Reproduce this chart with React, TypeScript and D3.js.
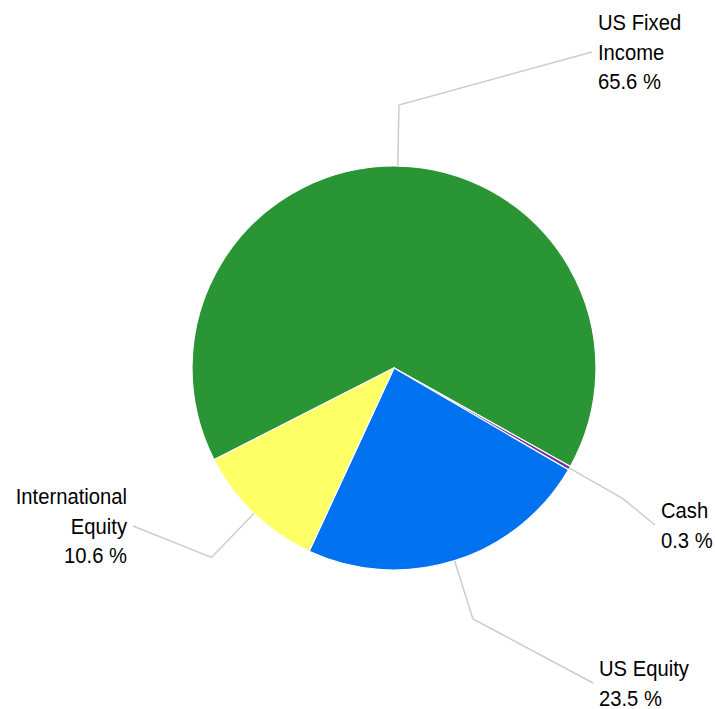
import React from "react";
import * as d3 from "d3";

const categories = ["US Fixed Income", "Cash", "US Equity", "International Equity"];
const values = [65.6, 0.3, 23.5, 10.6];
const labelLines = [["US Fixed", "Income", "65.6 %"], ["Cash", "0.3 %"], ["US Equity", "23.5 %"], ["International", "Equity", "10.6 %"]];
const colors = ["#2A9535", "#7030A0", "#0072F0", "#FFFF66"];

// label layout (leader line end points and text side)
const labelEnds: [number, number][] = [[592, 52], [655, 525], [593, 683], [133, 526]];
const labelSide = ["start", "start", "start", "end"];

const W = 715, H = 709;
const cx = 394, cy = 368, R = 202, R2 = 263;
const FONT = 22, LH = 29.5, SX = 0.92;

export default function App() {
  const pie = d3.pie<number>().sort(null).value((d) => d)
    .startAngle((-117 * Math.PI) / 180).endAngle((243 * Math.PI) / 180);
  const arcs = pie(values);
  const arc = d3.arc<d3.PieArcDatum<number>>().innerRadius(0).outerRadius(R);
  const pt = (a: number, r: number): [number, number] => [cx + r * Math.sin(a), cy - r * Math.cos(a)];
  return (
    <svg width={W} height={H} style={{ position: "absolute", left: 0, top: 0, background: "#fff" }}>
      <g transform={`translate(${cx},${cy})`}>
        {arcs.map((a, i) => (
          <path key={categories[i]} d={arc(a) || ""} fill={colors[i]} stroke="#fff" strokeWidth={1.2} />
        ))}
      </g>
      {arcs.map((a, i) => {
        const mid = (a.startAngle + a.endAngle) / 2;
        const p1 = pt(mid, R);
        const p2 = pt(mid, R2);
        const e = labelEnds[i];
        const line = d3.line()([p1, p2, e]) || "";
        const lines = labelLines[i];
        const n = lines.length;
        const first = e[1] + 8 - ((n - 1) * LH) / 2;
        const anchor = labelSide[i];
        const tx = anchor === "start" ? e[0] + 6 : e[0] - 6;
        return (
          <g key={"l" + i}>
            <path d={line} fill="none" stroke="#cccccc" strokeWidth={1.5} />
            <g transform={`translate(${tx},0) scale(${SX},1)`}>
              {lines.map((t, j) => (
                <text key={j} x={0} y={first + j * LH} textAnchor={anchor as any}
                  fontFamily="'Liberation Sans', Arial, sans-serif" fontSize={FONT} fill="#000">
                  {t}
                </text>
              ))}
            </g>
          </g>
        );
      })}
    </svg>
  );
}
